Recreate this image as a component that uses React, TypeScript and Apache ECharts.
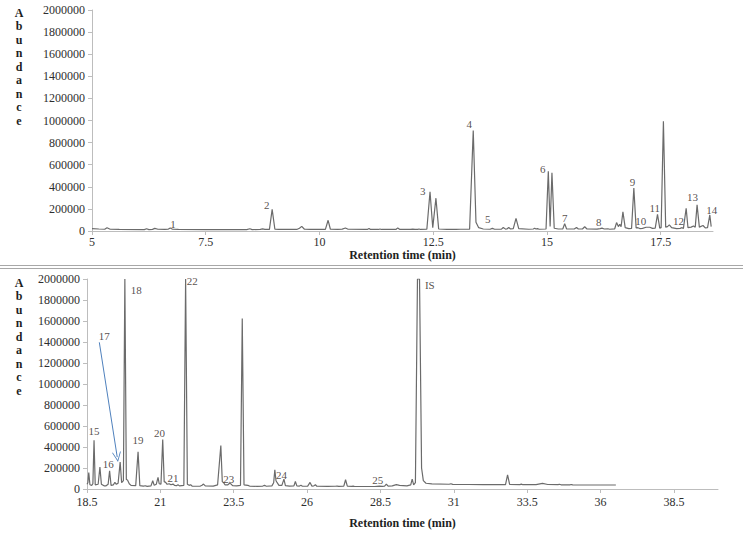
import React, { useEffect, useRef } from "react";
import * as echarts from "echarts";

// ---- Data (retention time in min, abundance) ----
const topTicks = [5, 7.5, 10, 12.5, 15, 17.5];
const bottomTicks = [18.5, 21, 23.5, 26, 28.5, 31, 33.5, 36, 38.5];

const topTrace: number[][] = [
  [5.0, 22000], [5.15, 18000], [5.28, 16000], [5.33, 30000], [5.4, 16000], [5.6, 14000],
  [6.15, 13000], [6.2, 20000], [6.25, 13000], [6.33, 15000], [6.38, 24000], [6.45, 16000],
  [6.6, 14000], [6.68, 17000], [6.72, 28000], [6.77, 16000], [6.9, 14000], [7.5, 13000],
  [8.4, 13000], [8.47, 20000], [8.52, 13000], [8.7, 14000], [8.75, 19000], [8.8, 14000],
  [8.9, 15000], [8.96, 195000], [9.02, 16000], [9.1, 14000], [9.5, 14000], [9.56, 25000],
  [9.61, 42000], [9.67, 16000], [9.8, 14000], [10.13, 15000], [10.19, 97000], [10.24, 16000],
  [10.4, 14000], [10.5, 17000], [10.57, 27000], [10.63, 16000], [11.0, 14000], [11.06, 15000],
  [11.09, 22000], [11.12, 14000], [11.3, 14000], [11.33, 18000], [11.36, 14000], [11.5, 14000],
  [11.53, 16000], [11.56, 14000], [11.68, 14000], [11.72, 28000], [11.76, 15000], [12.0, 14000],
  [12.05, 17000], [12.1, 14000], [12.16, 15000], [12.19, 18000], [12.22, 14000], [12.36, 16000],
  [12.43, 355000], [12.49, 30000], [12.56, 297000], [12.62, 18000], [12.8, 14000], [13.0, 14000],
  [13.1, 16000], [13.3, 17000], [13.38, 909000], [13.44, 80000], [13.5, 30000], [13.6, 18000],
  [13.75, 16000], [13.8, 24000], [13.85, 16000], [14.0, 17000], [14.04, 32000], [14.09, 17000],
  [14.12, 18000], [14.16, 31000], [14.2, 18000], [14.26, 22000], [14.32, 115000], [14.38, 22000],
  [14.6, 16000], [14.7, 18000], [14.73, 25000], [14.76, 18000], [14.79, 22000], [14.83, 16000],
  [14.98, 18000], [15.03, 540000], [15.07, 40000], [15.11, 527000], [15.16, 25000], [15.25, 18000],
  [15.35, 20000], [15.39, 67000], [15.43, 20000], [15.6, 18000], [15.65, 32000], [15.69, 18000],
  [15.78, 18000], [15.83, 38000], [15.88, 18000], [16.1, 17000], [16.17, 22000], [16.21, 26000],
  [16.26, 18000], [16.34, 20000], [16.38, 16000], [16.49, 20000], [16.53, 76000], [16.57, 40000],
  [16.6, 60000], [16.63, 40000], [16.67, 173000], [16.72, 30000], [16.8, 22000], [16.86, 24000],
  [16.91, 388000], [16.96, 28000], [17.0, 30000], [17.04, 22000], [17.1, 24000], [17.18, 34000],
  [17.26, 34000], [17.32, 24000], [17.38, 26000], [17.43, 150000], [17.48, 26000], [17.51, 30000],
  [17.56, 994000], [17.61, 35000], [17.65, 40000], [17.69, 55000], [17.74, 30000], [17.85, 22000],
  [17.93, 24000], [17.96, 30000], [18.0, 24000], [18.06, 206000], [18.1, 30000], [18.17, 35000],
  [18.22, 45000], [18.26, 35000], [18.3, 236000], [18.35, 35000], [18.43, 50000], [18.48, 28000],
  [18.53, 30000], [18.58, 145000], [18.61, 40000],
];

const bottomTrace: number[][] = [
  [18.5, 45000], [18.53, 60000], [18.56, 157000], [18.6, 40000], [18.66, 35000], [18.7, 50000],
  [18.74, 465000], [18.78, 40000], [18.88, 45000], [18.94, 210000], [18.99, 45000], [19.08, 30000],
  [19.15, 30000], [19.22, 45000], [19.27, 173000], [19.32, 35000], [19.4, 40000], [19.45, 63000],
  [19.5, 45000], [19.56, 55000], [19.63, 257000], [19.68, 60000], [19.74, 80000], [19.79, 2000000],
  [19.84, 90000], [19.88, 85000], [19.94, 50000], [20.0, 35000], [20.16, 32000], [20.24, 355000],
  [20.3, 32000], [20.42, 28000], [20.49, 31000], [20.55, 25000], [20.68, 30000], [20.74, 79000],
  [20.79, 35000], [20.86, 45000], [20.92, 110000], [20.96, 50000], [21.02, 45000], [21.08, 471000],
  [21.13, 70000], [21.18, 63000], [21.23, 45000], [21.3, 50000], [21.36, 40000], [21.43, 47000],
  [21.48, 35000], [21.55, 32000], [21.6, 41000], [21.65, 30000], [21.8, 35000], [21.86, 2000000],
  [21.92, 45000], [21.98, 35000], [22.03, 41000], [22.08, 28000], [22.35, 26000], [22.42, 35000],
  [22.47, 47000], [22.53, 30000], [22.8, 28000], [22.95, 40000], [23.06, 414000], [23.11, 70000],
  [23.15, 63000], [23.2, 40000], [23.3, 40000], [23.36, 55000], [23.41, 47000], [23.46, 32000],
  [23.6, 30000], [23.73, 35000], [23.79, 1623000], [23.85, 40000], [23.98, 35000], [24.04, 28000],
  [24.3, 25000], [24.49, 28000], [24.55, 35000], [24.61, 26000], [24.8, 30000], [24.86, 60000],
  [24.9, 182000], [24.94, 79000], [24.98, 60000], [25.04, 35000], [25.14, 35000], [25.21, 94000],
  [25.26, 32000], [25.4, 28000], [25.55, 30000], [25.6, 72000], [25.65, 30000], [25.74, 28000],
  [25.79, 35000], [25.84, 26000], [26.02, 28000], [26.1, 63000], [26.16, 28000], [26.23, 30000],
  [26.28, 41000], [26.33, 26000], [26.7, 25000], [26.96, 26000], [27.02, 28000], [27.08, 25000],
  [27.25, 27000], [27.31, 88000], [27.37, 27000], [27.52, 25000], [27.57, 28000], [27.62, 24000],
  [28.3, 24000], [28.46, 28000], [28.56, 25000], [28.64, 28000], [28.7, 47000], [28.76, 28000],
  [28.9, 30000], [29.04, 41000], [29.15, 35000], [29.4, 30000], [29.53, 40000], [29.58, 94000],
  [29.63, 40000], [29.69, 60000], [29.76, 2000000], [29.83, 2000000], [29.9, 200000], [29.96, 80000],
  [30.05, 55000], [30.25, 48000], [30.84, 45000], [30.9, 50000], [30.96, 44000], [31.5, 43000],
  [32.0, 42000], [32.76, 42000], [32.83, 135000], [32.9, 44000], [33.25, 42000], [33.3, 46000],
  [33.35, 41000], [33.8, 42000], [34.02, 53000], [34.2, 43000], [34.55, 41000], [34.6, 45000],
  [34.65, 40000], [34.95, 40000], [35.0, 43000], [35.05, 39000], [36.0, 38000], [36.52, 38000],
];

const topPeakNames = ["1", "2", "3", "4", "5", "6", "7", "8", "9", "10", "11", "12", "13", "14"];
const topPeakLabelPos: number[][] = [
  [6.78, 67000], [8.84, 236000], [12.27, 364000], [13.29, 964000], [13.7, 106000],
  [14.91, 560000], [15.39, 115000], [16.14, 79000], [16.88, 445000], [17.06, 91000],
  [17.37, 206000], [17.89, 91000], [18.2, 309000], [18.62, 192000],
];

const bottomPeakNames = ["15", "16", "17", "18", "19", "20", "21", "22", "23", "24", "25", "IS"];
const bottomPeakLabelPos: number[][] = [
  [18.74, 549000], [19.22, 236000], [19.09, 1453000], [20.18, 1900000], [20.24, 462000],
  [20.97, 534000], [21.43, 107000], [22.09, 1978000], [23.33, 94000], [25.13, 135000],
  [28.41, 88000], [30.18, 1947000],
];

// arrow pointing from label 17 to its peak
const arrow17: number[][] = [[18.92, 1397000], [19.53, 304000]];

const SERIF = "'Liberation Serif', 'Times New Roman', 'DejaVu Serif', serif";
const AXIS_COLOR = "#bdbdbd";
const TEXT_COLOR = "#2e2e2e";
const TRACE_COLOR = "#6b6b6b";

function xAxisFor(
  gridIndex: number,
  min: number,
  max: number,
  ticks: number[],
  nameGap: number,
  labelMargin: number
) {
  return {
    type: "value",
    gridIndex,
    min,
    max,
    interval: 2.5,
    name: "Retention time (min)",
    nameLocation: "middle",
    nameGap,
    nameTextStyle: { fontFamily: SERIF, fontWeight: "bold", fontSize: 12, color: "#1e1e1e" },
    axisLine: { lineStyle: { color: AXIS_COLOR, width: 1 } },
    axisTick: { show: true, length: 4, lineStyle: { color: AXIS_COLOR }, customValues: ticks },
    axisLabel: {
      customValues: ticks,
      fontFamily: SERIF,
      fontSize: 12,
      lineHeight: 12,
      color: TEXT_COLOR,
      margin: labelMargin,
      formatter: (v: number) => String(v),
    },
    splitLine: { show: false },
  };
}

function yAxisFor(gridIndex: number) {
  return {
    type: "value",
    gridIndex,
    min: 0,
    max: 2000000,
    interval: 200000,
    axisLine: { show: true, lineStyle: { color: AXIS_COLOR, width: 1 } },
    axisTick: { show: true, length: 4, lineStyle: { color: AXIS_COLOR } },
    axisLabel: {
      fontFamily: SERIF,
      fontSize: 12,
      lineHeight: 12,
      color: TEXT_COLOR,
      margin: 7,
      formatter: (v: number) => String(v),
    },
    splitLine: { show: false },
  };
}

function labelSeries(names: string[], pos: number[][], axisIndex: number) {
  return {
    type: "scatter",
    xAxisIndex: axisIndex,
    yAxisIndex: axisIndex,
    symbolSize: 1,
    itemStyle: { color: "rgba(0,0,0,0)" },
    silent: true,
    z: 5,
    data: names.map((n, i) => ({ name: n, value: pos[i] })),
    label: {
      show: true,
      position: "inside",
      formatter: "{b}",
      fontFamily: SERIF,
      fontSize: 11,
      color: "#2a2118",
      textBorderWidth: 0,
      textBorderColor: "transparent",
    },
  };
}

const abundanceText = "A\nb\nu\nn\nd\na\nn\nc\ne";

export default function App() {
  const ref = useRef<HTMLDivElement>(null);

  useEffect(() => {
    if (!ref.current) return;
    const chart = echarts.init(ref.current, undefined, { renderer: "svg" });
    const option: any = {
      animation: false,
      backgroundColor: "#ffffff",
      grid: [
        { left: 92, top: 10, width: 621, height: 221 },
        { left: 87, top: 279, width: 631, height: 210 },
      ],
      xAxis: [
        xAxisFor(0, 5, 18.65, topTicks, 18, 5),
        xAxisFor(1, 18.5, 40, bottomTicks, 28, 7),
      ],
      yAxis: [yAxisFor(0), yAxisFor(1)],
      series: [
        {
          type: "line",
          xAxisIndex: 0,
          yAxisIndex: 0,
          data: topTrace,
          showSymbol: false,
          symbol: "none",
          lineStyle: { color: TRACE_COLOR, width: 1.2 },
          clip: true,
        },
        {
          type: "line",
          xAxisIndex: 1,
          yAxisIndex: 1,
          data: bottomTrace,
          showSymbol: false,
          symbol: "none",
          lineStyle: { color: TRACE_COLOR, width: 1.2 },
          clip: true,
          markLine: {
            silent: true,
            symbol: ["none", "path://M0,10L5,0L10,10L9,10L5,2L1,10Z"],
            symbolSize: [9, 10],
            label: { show: false },
            lineStyle: { color: "#4f81bd", width: 1, type: "solid" },
            data: [[{ coord: arrow17[0] }, { coord: arrow17[1] }]],
          },
        },
        labelSeries(topPeakNames, topPeakLabelPos, 0),
        labelSeries(bottomPeakNames, bottomPeakLabelPos, 1),
      ],
      graphic: [
        {
          type: "text",
          x: 19,
          y: 6,
          style: {
            text: abundanceText,
            fontFamily: SERIF,
            fontWeight: "bold",
            fontSize: 12,
            lineHeight: 13.5,
            fill: "#1e1e1e",
            align: "center",
          },
        },
        {
          type: "text",
          x: 19,
          y: 276,
          style: {
            text: abundanceText,
            fontFamily: SERIF,
            fontWeight: "bold",
            fontSize: 12,
            lineHeight: 13.5,
            fill: "#1e1e1e",
            align: "center",
          },
        },
        {
          type: "line",
          shape: { x1: 0, y1: 265.5, x2: 743, y2: 265.5 },
          style: { stroke: "#a8a8a8", lineWidth: 1 },
        },
        {
          type: "line",
          shape: { x1: 0, y1: 268.5, x2: 743, y2: 268.5 },
          style: { stroke: "#a8a8a8", lineWidth: 1 },
        },
      ],
    };
    chart.setOption(option);
    return () => chart.dispose();
  }, []);

  return (
    <div
      ref={ref}
      style={{ position: "fixed", left: 0, top: 0, width: 743, height: 535, background: "#fff" }}
    />
  );
}
